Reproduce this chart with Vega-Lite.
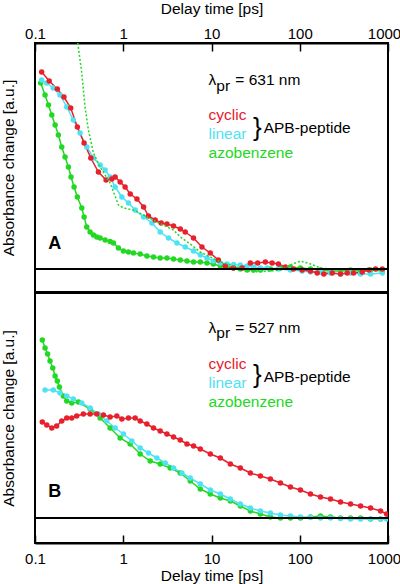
{
  "$schema": "https://vega.github.io/schema/vega-lite/v6.json",
  "padding": {"left": 0, "top": 0, "right": 0, "bottom": 0},
  "spacing": -2,
  "config": {
    "font": "Liberation Sans",
    "view": {"stroke": "black", "strokeWidth": 2},
    "axis": {"grid": false}
  },
  "datasets": {
    "A": [
      {"s":"azobenzene","t":0.116,"v":186},{"s":"azobenzene","t":0.130,"v":174},{"s":"azobenzene","t":0.142,"v":164},{"s":"azobenzene","t":0.155,"v":154},{"s":"azobenzene","t":0.169,"v":144},{"s":"azobenzene","t":0.184,"v":134},{"s":"azobenzene","t":0.201,"v":122},{"s":"azobenzene","t":0.219,"v":112},{"s":"azobenzene","t":0.239,"v":102},{"s":"azobenzene","t":0.256,"v":92},{"s":"azobenzene","t":0.277,"v":82},{"s":"azobenzene","t":0.302,"v":72},{"s":"azobenzene","t":0.339,"v":61},{"s":"azobenzene","t":0.360,"v":52},{"s":"azobenzene","t":0.386,"v":42},{"s":"azobenzene","t":0.421,"v":37},{"s":"azobenzene","t":0.459,"v":34},{"s":"azobenzene","t":0.502,"v":32},{"s":"azobenzene","t":0.547,"v":31},{"s":"azobenzene","t":0.623,"v":29},{"s":"azobenzene","t":0.710,"v":27.5},{"s":"azobenzene","t":0.774,"v":26},{"s":"azobenzene","t":0.882,"v":21},{"s":"azobenzene","t":1.005,"v":18},{"s":"azobenzene","t":1.146,"v":17},{"s":"azobenzene","t":1.305,"v":16},{"s":"azobenzene","t":1.555,"v":15},{"s":"azobenzene","t":1.853,"v":13},{"s":"azobenzene","t":2.202,"v":12},{"s":"azobenzene","t":2.623,"v":11},{"s":"azobenzene","t":3.126,"v":11},{"s":"azobenzene","t":3.714,"v":10},{"s":"azobenzene","t":4.426,"v":9},{"s":"azobenzene","t":5.273,"v":8},{"s":"azobenzene","t":6.265,"v":7},{"s":"azobenzene","t":7.465,"v":7},{"s":"azobenzene","t":8.889,"v":6},{"s":"azobenzene","t":10.48,"v":5},{"s":"azobenzene","t":12.59,"v":3},{"s":"azobenzene","t":14.99,"v":2},{"s":"azobenzene","t":17.82,"v":1},{"s":"azobenzene","t":21.23,"v":0},{"s":"azobenzene","t":25.29,"v":-1},{"s":"azobenzene","t":30.06,"v":-1},{"s":"azobenzene","t":35.81,"v":-1},{"s":"azobenzene","t":46.49,"v":0},{"s":"azobenzene","t":60.39,"v":1},{"s":"azobenzene","t":78.41,"v":2},{"s":"azobenzene","t":101.8,"v":1},{"s":"azobenzene","t":132.3,"v":0},{"s":"azobenzene","t":171.8,"v":-1},{"s":"azobenzene","t":223.1,"v":-2},{"s":"azobenzene","t":289.7,"v":-2},{"s":"azobenzene","t":376.2,"v":-1},{"s":"azobenzene","t":488.7,"v":-2},{"s":"azobenzene","t":634.7,"v":-1},{"s":"azobenzene","t":861.5,"v":-2},
      {"s":"linear","t":0.119,"v":189},{"s":"linear","t":0.136,"v":186},{"s":"linear","t":0.161,"v":181},{"s":"linear","t":0.192,"v":174},{"s":"linear","t":0.229,"v":162},{"s":"linear","t":0.272,"v":149},{"s":"linear","t":0.324,"v":136},{"s":"linear","t":0.386,"v":122},{"s":"linear","t":0.459,"v":111},{"s":"linear","t":0.547,"v":104},{"s":"linear","t":0.623,"v":99},{"s":"linear","t":0.710,"v":92},{"s":"linear","t":0.809,"v":82},{"s":"linear","t":0.964,"v":72},{"s":"linear","t":1.146,"v":66},{"s":"linear","t":1.365,"v":59},{"s":"linear","t":1.696,"v":52},{"s":"linear","t":2.112,"v":46},{"s":"linear","t":2.623,"v":37},{"s":"linear","t":3.258,"v":31},{"s":"linear","t":4.059,"v":26},{"s":"linear","t":5.043,"v":22},{"s":"linear","t":6.265,"v":18},{"s":"linear","t":7.465,"v":14},{"s":"linear","t":8.889,"v":11},{"s":"linear","t":10.48,"v":8},{"s":"linear","t":12.59,"v":6},{"s":"linear","t":14.99,"v":5},{"s":"linear","t":17.82,"v":4.5},{"s":"linear","t":21.23,"v":4},{"s":"linear","t":25.29,"v":3},{"s":"linear","t":30.06,"v":2},{"s":"linear","t":35.81,"v":1},{"s":"linear","t":42.66,"v":1},{"s":"linear","t":57.3,"v":0},{"s":"linear","t":78.4,"v":-1},{"s":"linear","t":106.5,"v":-2},{"s":"linear","t":132.3,"v":-3},{"s":"linear","t":171.8,"v":-3},{"s":"linear","t":223.1,"v":-4},{"s":"linear","t":289.7,"v":-5},{"s":"linear","t":376.2,"v":-4},{"s":"linear","t":488.7,"v":-5},{"s":"linear","t":634.7,"v":-5},{"s":"linear","t":861.5,"v":-4},
      {"s":"cyclic","t":0.119,"v":197},{"s":"cyclic","t":0.145,"v":188},{"s":"cyclic","t":0.179,"v":180},{"s":"cyclic","t":0.213,"v":172},{"s":"cyclic","t":0.254,"v":161},{"s":"cyclic","t":0.302,"v":142},{"s":"cyclic","t":0.360,"v":126},{"s":"cyclic","t":0.429,"v":111},{"s":"cyclic","t":0.523,"v":97},{"s":"cyclic","t":0.639,"v":89},{"s":"cyclic","t":0.742,"v":90},{"s":"cyclic","t":0.809,"v":92},{"s":"cyclic","t":0.922,"v":87},{"s":"cyclic","t":1.05,"v":82},{"s":"cyclic","t":1.20,"v":75},{"s":"cyclic","t":1.43,"v":70},{"s":"cyclic","t":1.70,"v":62},{"s":"cyclic","t":1.93,"v":53},{"s":"cyclic","t":2.30,"v":49},{"s":"cyclic","t":2.69,"v":46},{"s":"cyclic","t":3.13,"v":45},{"s":"cyclic","t":3.71,"v":43},{"s":"cyclic","t":4.43,"v":40},{"s":"cyclic","t":5.04,"v":37},{"s":"cyclic","t":6.25,"v":31},{"s":"cyclic","t":7.80,"v":22},{"s":"cyclic","t":9.69,"v":16},{"s":"cyclic","t":11.95,"v":9},{"s":"cyclic","t":14.35,"v":3},{"s":"cyclic","t":17.68,"v":1},{"s":"cyclic","t":22.19,"v":1},{"s":"cyclic","t":27.56,"v":6},{"s":"cyclic","t":33.37,"v":6},{"s":"cyclic","t":40.8,"v":7},{"s":"cyclic","t":48.6,"v":6},{"s":"cyclic","t":57.3,"v":5},{"s":"cyclic","t":68.8,"v":2},{"s":"cyclic","t":84.8,"v":0},{"s":"cyclic","t":106.5,"v":-1},{"s":"cyclic","t":132.3,"v":-2},{"s":"cyclic","t":157.6,"v":-4},{"s":"cyclic","t":187.3,"v":-5},{"s":"cyclic","t":233.3,"v":-4},{"s":"cyclic","t":289.7,"v":-5},{"s":"cyclic","t":345.1,"v":-4},{"s":"cyclic","t":406.9,"v":-4},{"s":"cyclic","t":510.9,"v":-3},{"s":"cyclic","t":607.1,"v":-1},{"s":"cyclic","t":723.2,"v":0},{"s":"cyclic","t":861.5,"v":0}
    ],
    "fitA": [
      {"t":0.29,"v":330},{"t":0.305,"v":226},{"t":0.324,"v":209},{"t":0.339,"v":196},{"t":0.369,"v":162},{"t":0.403,"v":139},{"t":0.459,"v":116},{"t":0.547,"v":102},{"t":0.710,"v":86},{"t":0.882,"v":64},{"t":1.005,"v":61},{"t":1.305,"v":59},{"t":1.696,"v":54},{"t":2.407,"v":47},{"t":3.714,"v":39},{"t":4.43,"v":32},{"t":5.745,"v":25},{"t":7.465,"v":17},{"t":12.59,"v":7},{"t":21.23,"v":1},{"t":29.8,"v":-3},{"t":46.5,"v":-2},{"t":60.4,"v":-1},{"t":78.4,"v":4},{"t":101.8,"v":8},{"t":132.3,"v":5},{"t":171.8,"v":1},{"t":223.1,"v":0},{"t":400,"v":0},{"t":964,"v":0}
    ],
    "B": [
      {"s":"azobenzene","t":0.121,"v":178},{"s":"azobenzene","t":0.130,"v":170},{"s":"azobenzene","t":0.139,"v":164},{"s":"azobenzene","t":0.148,"v":157},{"s":"azobenzene","t":0.159,"v":150},{"s":"azobenzene","t":0.169,"v":142},{"s":"azobenzene","t":0.179,"v":137},{"s":"azobenzene","t":0.189,"v":131},{"s":"azobenzene","t":0.2095,"v":122},{"s":"azobenzene","t":0.229,"v":117},{"s":"azobenzene","t":0.261,"v":115},{"s":"azobenzene","t":0.31,"v":116},{"s":"azobenzene","t":0.421,"v":109},{"s":"azobenzene","t":0.547,"v":100},{"s":"azobenzene","t":0.710,"v":90},{"s":"azobenzene","t":0.922,"v":80},{"s":"azobenzene","t":1.198,"v":74},{"s":"azobenzene","t":1.555,"v":64},{"s":"azobenzene","t":2.020,"v":57},{"s":"azobenzene","t":2.623,"v":54},{"s":"azobenzene","t":3.406,"v":50},{"s":"azobenzene","t":4.426,"v":45},{"s":"azobenzene","t":5.745,"v":37},{"s":"azobenzene","t":7.465,"v":29},{"s":"azobenzene","t":9.691,"v":24},{"s":"azobenzene","t":12.59,"v":20},{"s":"azobenzene","t":16.35,"v":17},{"s":"azobenzene","t":21.23,"v":12},{"s":"azobenzene","t":27.56,"v":7},{"s":"azobenzene","t":35.81,"v":4},{"s":"azobenzene","t":46.49,"v":1},{"s":"azobenzene","t":60.39,"v":0},{"s":"azobenzene","t":78.41,"v":0},{"s":"azobenzene","t":101.8,"v":0},{"s":"azobenzene","t":132.3,"v":1},{"s":"azobenzene","t":171.8,"v":2},{"s":"azobenzene","t":223.1,"v":1},{"s":"azobenzene","t":289.7,"v":0},{"s":"azobenzene","t":376.2,"v":0},{"s":"azobenzene","t":488.7,"v":0},{"s":"azobenzene","t":634.7,"v":-1},{"s":"azobenzene","t":824.1,"v":-1},
      {"s":"linear","t":0.130,"v":128},{"s":"linear","t":0.161,"v":128},{"s":"linear","t":0.192,"v":125},{"s":"linear","t":0.229,"v":122},{"s":"linear","t":0.272,"v":119},{"s":"linear","t":0.339,"v":115},{"s":"linear","t":0.421,"v":110},{"s":"linear","t":0.523,"v":104},{"s":"linear","t":0.651,"v":97},{"s":"linear","t":0.809,"v":90},{"s":"linear","t":1.005,"v":84},{"s":"linear","t":1.252,"v":77},{"s":"linear","t":1.555,"v":70},{"s":"linear","t":1.932,"v":65},{"s":"linear","t":2.407,"v":60},{"s":"linear","t":2.990,"v":55},{"s":"linear","t":3.714,"v":50},{"s":"linear","t":4.627,"v":45},{"s":"linear","t":5.745,"v":40},{"s":"linear","t":7.465,"v":34},{"s":"linear","t":9.691,"v":28},{"s":"linear","t":12.59,"v":24},{"s":"linear","t":16.35,"v":19},{"s":"linear","t":21.23,"v":14},{"s":"linear","t":27.56,"v":10},{"s":"linear","t":35.81,"v":7},{"s":"linear","t":46.49,"v":5},{"s":"linear","t":60.39,"v":3},{"s":"linear","t":78.41,"v":2},{"s":"linear","t":101.8,"v":1},{"s":"linear","t":132.3,"v":0.5},{"s":"linear","t":171.8,"v":0},{"s":"linear","t":223.1,"v":0},{"s":"linear","t":289.7,"v":-0.5},{"s":"linear","t":376.2,"v":-1},{"s":"linear","t":488.7,"v":-1},{"s":"linear","t":634.7,"v":-1},{"s":"linear","t":824.1,"v":-1},{"s":"linear","t":964,"v":-1},
      {"s":"cyclic","t":0.121,"v":96},{"s":"cyclic","t":0.136,"v":93},{"s":"cyclic","t":0.155,"v":90},{"s":"cyclic","t":0.176,"v":92},{"s":"cyclic","t":0.201,"v":97},{"s":"cyclic","t":0.229,"v":100},{"s":"cyclic","t":0.261,"v":100},{"s":"cyclic","t":0.297,"v":102},{"s":"cyclic","t":0.353,"v":104},{"s":"cyclic","t":0.421,"v":104},{"s":"cyclic","t":0.502,"v":104},{"s":"cyclic","t":0.596,"v":103},{"s":"cyclic","t":0.710,"v":101},{"s":"cyclic","t":0.846,"v":102},{"s":"cyclic","t":0.964,"v":99},{"s":"cyclic","t":1.146,"v":100},{"s":"cyclic","t":1.365,"v":100},{"s":"cyclic","t":1.555,"v":97},{"s":"cyclic","t":1.853,"v":94},{"s":"cyclic","t":2.202,"v":90},{"s":"cyclic","t":2.623,"v":87},{"s":"cyclic","t":3.126,"v":84},{"s":"cyclic","t":3.714,"v":81},{"s":"cyclic","t":4.426,"v":78},{"s":"cyclic","t":5.273,"v":74},{"s":"cyclic","t":6.265,"v":72},{"s":"cyclic","t":7.465,"v":69},{"s":"cyclic","t":9.691,"v":64},{"s":"cyclic","t":12.59,"v":60},{"s":"cyclic","t":16.35,"v":54},{"s":"cyclic","t":21.23,"v":50},{"s":"cyclic","t":27.56,"v":45},{"s":"cyclic","t":35.81,"v":42},{"s":"cyclic","t":46.49,"v":39},{"s":"cyclic","t":60.39,"v":35},{"s":"cyclic","t":78.41,"v":31},{"s":"cyclic","t":101.8,"v":28},{"s":"cyclic","t":132.3,"v":24},{"s":"cyclic","t":171.8,"v":21},{"s":"cyclic","t":223.1,"v":19},{"s":"cyclic","t":289.7,"v":16},{"s":"cyclic","t":376.2,"v":14},{"s":"cyclic","t":488.7,"v":12},{"s":"cyclic","t":634.7,"v":10},{"s":"cyclic","t":824.1,"v":7},{"s":"cyclic","t":964,"v":4}
    ],
    "noteA": [
      {"t":9.27,"v":184,"text":"λ"},{"t":11.34,"v":178.3,"text":"pr"},{"t":18.6,"v":184,"text":"= 631 nm"},{"t":39.0,"v":136.3,"text":"APB-peptide"}
    ],
    "noteB": [
      {"t":9.27,"v":185.3,"text":"λ"},{"t":11.34,"v":179.6,"text":"pr"},{"t":18.6,"v":185.3,"text":"= 527 nm"},{"t":39.0,"v":136.3,"text":"APB-peptide"}
    ],
    "braceA": [{"t":29.6,"v":141.5,"text":"}"}],
    "braceB": [{"t":29.6,"v":143,"text":"}"}],
    "keyA": [
      {"s":"cyclic","t":9.27,"v":149,"text":"cyclic"},{"s":"linear","t":9.27,"v":129.7,"text":"linear"},{"s":"azobenzene","t":9.27,"v":110.7,"text":"azobenzene"}
    ],
    "keyB": [
      {"s":"cyclic","t":9.27,"v":148.7,"text":"cyclic"},{"s":"linear","t":9.27,"v":129.7,"text":"linear"},{"s":"azobenzene","t":9.27,"v":111,"text":"azobenzene"}
    ],
    "letterA": [{"t":0.1416,"v":19.7,"text":"A"}],
    "letterB": [{"t":0.1416,"v":21,"text":"B"}]
  },
  "vconcat": [
    {
      "width": 353,
      "height": 249,
      "encoding": {
        "x": {"field": "t", "type": "quantitative", "scale": {"type": "log", "domain": [0.1, 1000], "nice": false},
          "axis": {"orient": "top", "title": "Delay time [ps]", "values": [0.1, 1, 10, 100, 1000], "format": "~g", "labelFlush": false,
            "domainColor": "black", "domainWidth": 2, "tickColor": "black", "tickWidth": 1.5, "tickSize": -8,
            "labelFont": "Liberation Sans", "labelFontSize": 15, "labelColor": "black", "labelPadding": 10,
            "labelOffset": {"condition": {"test": "datum.value >= 1000", "value": -4}, "value": 0},
            "titleFont": "Liberation Sans", "titleFontSize": 15.5, "titleFontWeight": "normal", "titleColor": "black", "titlePadding": 10}},
        "y": {"field": "v", "type": "quantitative", "scale": {"domain": [-23, 226], "nice": false, "zero": false},
          "axis": {"title": "Absorbance change [a.u.]", "labels": false, "ticks": false, "domain": false,
            "titleFont": "Liberation Sans", "titleFontSize": 15.5, "titleFontWeight": "normal", "titleColor": "black", "titlePadding": 19}}
      },
      "layer": [
        {
          "data": {"name": "A"},
          "mark": {"type": "line", "strokeWidth": 1.5, "clip": true, "point": {"filled": true, "size": 30, "opacity": 1}},
          "encoding": {
            "color": {"field": "s", "type": "nominal", "scale": {"domain": ["cyclic", "linear", "azobenzene"], "range": ["#e8202c", "#4fe2f2", "#22d822"]}, "legend": null}
          }
        },
        {
          "data": {"name": "fitA"},
          "mark": {"type": "line", "color": "#22d822", "strokeWidth": 1.5, "strokeDash": [2, 2], "clip": true}
        },
        {
          "data": {"name": "noteA"},
          "mark": {"type": "text", "align": "left", "baseline": "alphabetic", "fontSize": 15.5, "color": "black"},
          "encoding": {"text": {"field": "text"}}
        },
        {
          "data": {"name": "braceA"},
          "mark": {"type": "text", "align": "left", "baseline": "middle", "fontSize": 26, "color": "black"},
          "encoding": {"text": {"field": "text"}}
        },
        {
          "data": {"name": "keyA"},
          "mark": {"type": "text", "align": "left", "baseline": "alphabetic", "fontSize": 15.5},
          "encoding": {"text": {"field": "text"}, "color": {"field": "s", "type": "nominal", "legend": null}}
        },
        {
          "data": {"name": "letterA"},
          "mark": {"type": "text", "align": "left", "baseline": "alphabetic", "fontSize": 18, "fontWeight": "bold", "color": "black"},
          "encoding": {"text": {"field": "text"}}
        },
        {
          "data": {"name": "A"},
          "mark": {"type": "rule", "color": "black", "strokeWidth": 2},
          "encoding": {"x": {"datum": 0.1}, "x2": {"datum": 1000}, "y": {"datum": 0}}
        }
      ]
    },
    {
      "width": 353,
      "height": 250,
      "encoding": {
        "x": {"field": "t", "type": "quantitative", "scale": {"type": "log", "domain": [0.1, 1000], "nice": false},
          "axis": {"orient": "bottom", "title": "Delay time [ps]", "values": [0.1, 1, 10, 100, 1000], "format": "~g", "labelFlush": false,
            "domainColor": "black", "domainWidth": 2, "tickColor": "black", "tickWidth": 1.5, "tickSize": -8,
            "labelFont": "Liberation Sans", "labelFontSize": 15, "labelColor": "black", "labelPadding": 16,
            "labelOffset": {"condition": {"test": "datum.value >= 1000", "value": -4}, "value": 0},
            "titleFont": "Liberation Sans", "titleFontSize": 15.5, "titleFontWeight": "normal", "titleColor": "black", "titlePadding": 2}},
        "y": {"field": "v", "type": "quantitative", "scale": {"domain": [-25, 225], "nice": false, "zero": false},
          "axis": {"title": "Absorbance change [a.u.]", "labels": false, "ticks": false, "domain": false,
            "titleFont": "Liberation Sans", "titleFontSize": 15.5, "titleFontWeight": "normal", "titleColor": "black", "titlePadding": 19}}
      },
      "layer": [
        {
          "data": {"name": "B"},
          "mark": {"type": "line", "strokeWidth": 1.5, "clip": true, "point": {"filled": true, "size": 30, "opacity": 1}},
          "encoding": {
            "color": {"field": "s", "type": "nominal", "scale": {"domain": ["cyclic", "linear", "azobenzene"], "range": ["#e8202c", "#4fe2f2", "#22d822"]}, "legend": null}
          }
        },
        {
          "data": {"name": "noteB"},
          "mark": {"type": "text", "align": "left", "baseline": "alphabetic", "fontSize": 15.5, "color": "black"},
          "encoding": {"text": {"field": "text"}}
        },
        {
          "data": {"name": "braceB"},
          "mark": {"type": "text", "align": "left", "baseline": "middle", "fontSize": 26, "color": "black"},
          "encoding": {"text": {"field": "text"}}
        },
        {
          "data": {"name": "keyB"},
          "mark": {"type": "text", "align": "left", "baseline": "alphabetic", "fontSize": 15.5},
          "encoding": {"text": {"field": "text"}, "color": {"field": "s", "type": "nominal", "legend": null}}
        },
        {
          "data": {"name": "letterB"},
          "mark": {"type": "text", "align": "left", "baseline": "alphabetic", "fontSize": 18, "fontWeight": "bold", "color": "black"},
          "encoding": {"text": {"field": "text"}}
        },
        {
          "data": {"name": "B"},
          "mark": {"type": "rule", "color": "black", "strokeWidth": 2},
          "encoding": {"x": {"datum": 0.1}, "x2": {"datum": 1000}, "y": {"datum": 0}}
        }
      ]
    }
  ]
}
